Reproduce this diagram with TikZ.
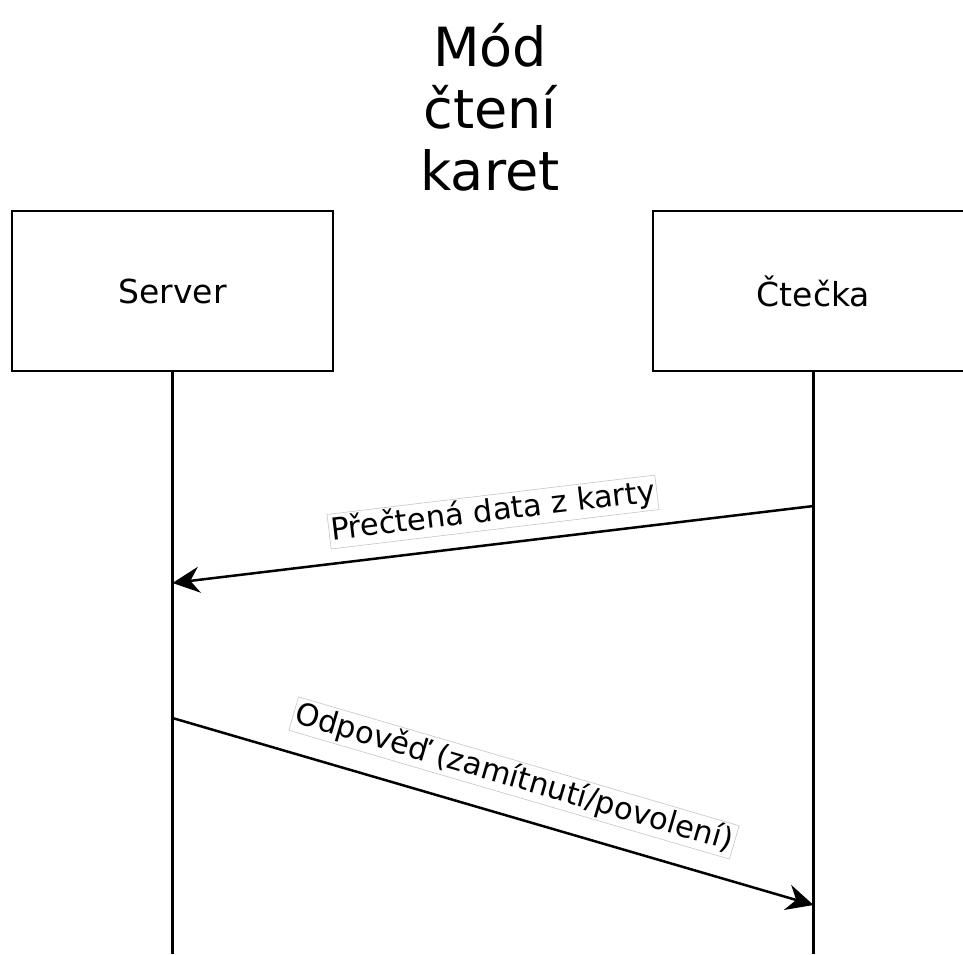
\documentclass[tikz,border=0pt]{standalone}
\usepackage{fontspec}
\setmainfont{DejaVu Sans}
\usetikzlibrary{arrows.meta}
\begin{document}
\begin{tikzpicture}[x=1pt,y=-1pt,
  actor/.style={draw=black,line width=2.5pt,minimum width=321pt,minimum height=160pt,inner sep=0pt,font=\fontsize{33}{38}\selectfont},
  lifeline/.style={draw=black,line width=2.5pt},
  msg/.style={draw=black,line width=2.5pt,-{Stealth[length=27pt,width=26pt,inset=9pt]}},
  msglabel/.style={fill=white,draw=gray!45,line width=0.6pt,inner sep=2pt,font=\fontsize{30.5}{36}\selectfont}
]
\useasboundingbox[fill=white] (0,0) rectangle (963,954);
\node[align=center,font=\fontsize{54}{62}\selectfont] (title) at (490,107) {Mód\\čtení\\karet};
\node[actor] (srv) at (172.5,291) {Server};
\node[actor] (rdr) at (813.5,291) {Čtečka};
\coordinate (srvend) at (srv.south |- 0,954);
\coordinate (rdrend) at (rdr.south |- 0,954);
\draw[lifeline] (srv.south) -- (srvend);
\draw[lifeline] (rdr.south) -- (rdrend);
\coordinate (a1s) at (rdr.south |- 0,506);
\coordinate (a1e) at (srv.south |- 0,583);
\coordinate (a2s) at (srv.south |- 0,718);
\coordinate (a2e) at (rdr.south |- 0,905);
\draw[msg] (a1s) -- (a1e);
\draw[msg] (a2s) -- (a2e);
\node[msglabel,rotate=6.86] (l1) at (493,512) {Přečtená data z karty};
\node[msglabel,rotate=-16.3] (l2) at (514,778) {Odpověď (zamítnutí/povolení)};
\end{tikzpicture}
\end{document}
